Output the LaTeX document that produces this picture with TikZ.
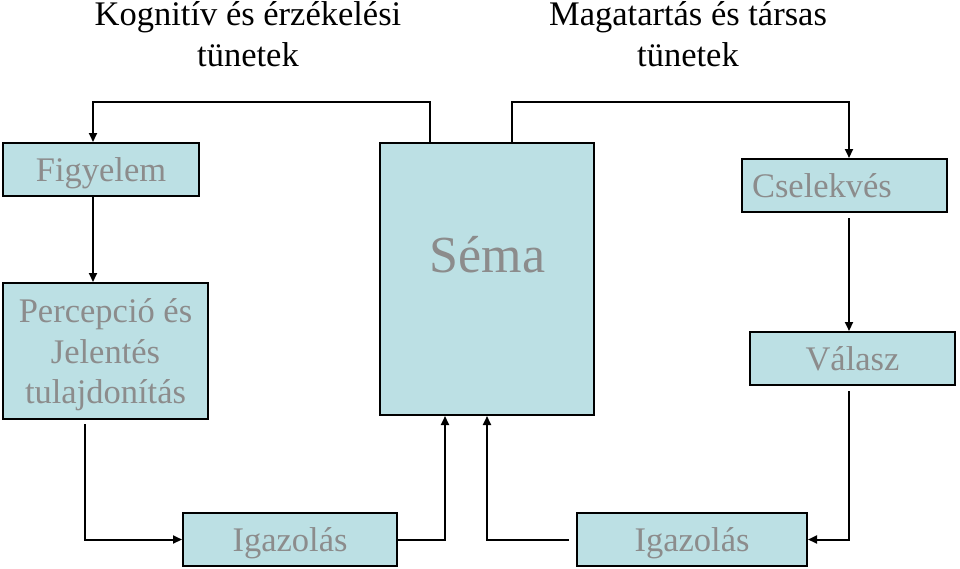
\documentclass[tikz,border=0pt]{standalone}
\usepackage{fontspec}
\setmainfont{Liberation Serif}
\usetikzlibrary{arrows.meta}
\definecolor{boxfill}{HTML}{BCE0E4}
\definecolor{boxtext}{HTML}{8C8C8C}
\tikzset{
  box/.style={draw=black, line width=2pt, fill=boxfill, inner sep=0pt, text=boxtext,
    font=\fontsize{34.5}{40.5}\selectfont, align=center, text depth=0pt},
  conn/.style={draw=black, line width=2pt, -{Triangle[length=9pt,width=8pt]}},
  head/.style={font=\fontsize{34.5}{41}\selectfont, align=center, inner sep=0pt}
}
\begin{document}
\begin{tikzpicture}[x=1pt,y=-1pt]
\useasboundingbox (0,0) rectangle (960,568);
% headers
\node[head] (h1) at (248,34) {Kognitív és érzékelési\\tünetek};
\node[head] (h2) at (688,34) {Magatartás és társas\\tünetek};
% boxes
\node[box, minimum width=196pt, minimum height=53pt] (fig) at (101,169.5) {Figyelem};
\node[box, minimum width=205pt, minimum height=136pt] (perc) at (105.5,351) {Percepció és\\Jelentés\\tulajdonítás};
\node[box, minimum width=214pt, minimum height=272pt] (sema) at (487,279) {};
\node[text=boxtext, font=\fontsize{52}{60}\selectfont, inner sep=0pt] (semat) at (487.5,255) {Séma};
\node[box, minimum width=205pt, minimum height=53pt, text width=185pt, align=left] (csel) at (844.5,185.5) {Cselekvés};
\node[box, minimum width=205pt, minimum height=53pt] (val) at (852.5,358.5) {Válasz};
\node[box, minimum width=214pt, minimum height=53pt] (ig1) at (290,539.5) {Igazolás};
\node[box, minimum width=230pt, minimum height=53pt] (ig2) at (692,539.5) {Igazolás};
% connectors
\draw[conn] (sema.north -| 430,0) |- (93,102) -- (fig.north -| 93,0);
\draw[conn] (sema.north -| 512,0) |- (849,102) -- (csel.north -| 849,0);
\draw[conn] (fig.south -| 93,0) -- (perc.north -| 93,0);
\draw[conn, shorten <=4pt] (perc.south -| 85,0) |- (ig1.west);
\draw[conn] (ig1.east) -| (sema.south -| 445,0);
\draw[conn, shorten <=5pt] (csel.south -| 849,0) -- (val.north -| 849,0);
\draw[conn, shorten <=5pt] (val.south -| 849,0) |- (ig2.east);
\draw[conn, shorten <=7pt] (ig2.west) -| (sema.south -| 487,0);
\end{tikzpicture}
\end{document}
